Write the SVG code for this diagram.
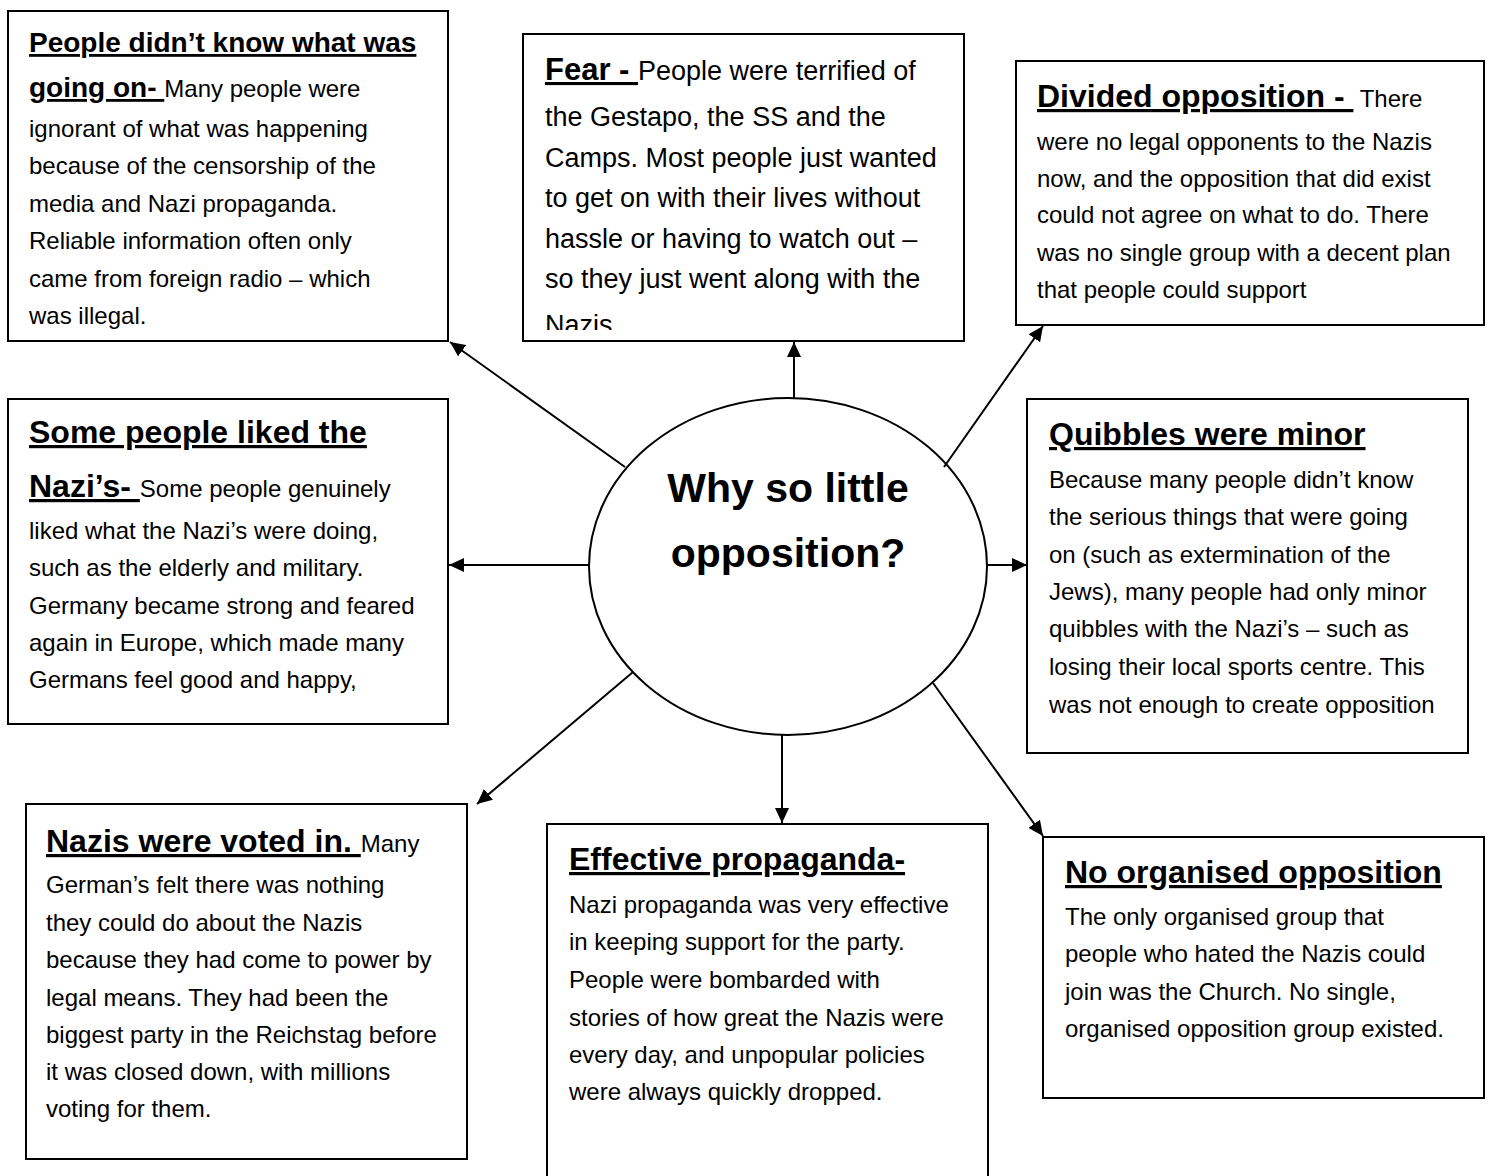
<svg xmlns="http://www.w3.org/2000/svg" width="1492" height="1176" viewBox="0 0 1492 1176">
<style>
.box{fill:#fff;stroke:#000;stroke-width:2}
.ell{fill:#fff;stroke:#000;stroke-width:2}
text{font-family:"Liberation Sans",Arial,sans-serif;font-size:24px;fill:#000}
.t{font-weight:bold;font-size:32px;text-decoration:underline}
.t28{font-weight:bold;font-size:28px;text-decoration:underline}
.f27{font-size:27px}
.center{font-weight:bold;font-size:41px;text-anchor:middle}
.con{stroke:#000;stroke-width:2;fill:none;marker-end:url(#arr)}
</style>
<defs>
<marker id="arr" markerUnits="userSpaceOnUse" markerWidth="16" markerHeight="14" refX="15" refY="7" orient="auto">
<path d="M0,0 L15,7 L0,14 Z" fill="#000"/>
</marker>
<clipPath id="fearclip"><rect x="523" y="34" width="441" height="296"/></clipPath>
</defs>
<rect width="1492" height="1176" fill="#fff"/>

<g id="node-knowledge">
<rect class="box" x="8" y="11" width="440" height="330"/>
<text x="29" y="52" class="t28">People didn’t know what was</text>
<text x="29" y="97"><tspan class="t28">going on-&#160;</tspan>Many people were</text>
<text x="29" y="137">ignorant of what was happening</text>
<text x="29" y="174">because of the censorship of the</text>
<text x="29" y="212">media and Nazi propaganda.</text>
<text x="29" y="249">Reliable information often only</text>
<text x="29" y="287">came from foreign radio – which</text>
<text x="29" y="324">was illegal.</text>
</g>

<g id="node-fear">
<rect class="box" x="523" y="34" width="441" height="307"/>
<g clip-path="url(#fearclip)">
<text x="545" y="80" class="f27"><tspan style="font-weight:bold;font-size:31px;text-decoration:underline">Fear -&#160;</tspan>People were terrified of</text>
<text x="545" y="126" class="f27">the Gestapo, the SS and the</text>
<text x="545" y="167" class="f27">Camps. Most people just wanted</text>
<text x="545" y="207" class="f27">to get on with their lives without</text>
<text x="545" y="248" class="f27">hassle or having to watch out –</text>
<text x="545" y="288" class="f27">so they just went along with the</text>
<text x="545" y="334" class="f27">Nazis</text>
</g>
</g>

<g id="node-divided">
<rect class="box" x="1016" y="61" width="468" height="264"/>
<text x="1037" y="107"><tspan class="t">Divided opposition -&#160;</tspan> There</text>
<text x="1037" y="150">were no legal opponents to the Nazis</text>
<text x="1037" y="187">now, and the opposition that did exist</text>
<text x="1037" y="223">could not agree on what to do. There</text>
<text x="1037" y="261">was no single group with a decent plan</text>
<text x="1037" y="298">that people could support</text>
</g>

<g id="node-liked">
<rect class="box" x="8" y="399" width="440" height="325"/>
<text x="29" y="443" class="t">Some people liked the</text>
<text x="29" y="497"><tspan class="t">Nazi’s-&#160;</tspan>Some people genuinely</text>
<text x="29" y="539">liked what the Nazi’s were doing,</text>
<text x="29" y="576">such as the elderly and military.</text>
<text x="29" y="614">Germany became strong and feared</text>
<text x="29" y="651">again in Europe, which made many</text>
<text x="29" y="688">Germans feel good and happy,</text>
</g>

<g id="node-center">
<ellipse class="ell" cx="788" cy="566.5" rx="199" ry="168.5"/>
<text x="788" y="502" class="center">Why so little</text>
<text x="788" y="567" class="center">opposition?</text>
</g>

<g id="node-quibbles">
<rect class="box" x="1027" y="399" width="441" height="354"/>
<text x="1049" y="445" class="t">Quibbles were minor</text>
<text x="1049" y="488">Because many people didn’t know</text>
<text x="1049" y="525">the serious things that were going</text>
<text x="1049" y="563">on (such as extermination of the</text>
<text x="1049" y="600">Jews), many people had only minor</text>
<text x="1049" y="637">quibbles with the Nazi’s – such as</text>
<text x="1049" y="675">losing their local sports centre. This</text>
<text x="1049" y="713">was not enough to create opposition</text>
</g>

<g id="node-voted">
<rect class="box" x="26" y="804" width="441" height="355"/>
<text x="46" y="852"><tspan class="t">Nazis were voted in.&#160;</tspan>Many</text>
<text x="46" y="893">German’s felt there was nothing</text>
<text x="46" y="931">they could do about the Nazis</text>
<text x="46" y="968">because they had come to power by</text>
<text x="46" y="1006">legal means. They had been the</text>
<text x="46" y="1043">biggest party in the Reichstag before</text>
<text x="46" y="1080">it was closed down, with millions</text>
<text x="46" y="1117">voting for them.</text>
</g>

<g id="node-propaganda">
<rect class="box" x="547" y="824" width="441" height="370"/>
<text x="569" y="870" class="t">Effective propaganda-</text>
<text x="569" y="913">Nazi propaganda was very effective</text>
<text x="569" y="950">in keeping support for the party.</text>
<text x="569" y="988">People were bombarded with</text>
<text x="569" y="1026">stories of how great the Nazis were</text>
<text x="569" y="1063">every day, and unpopular policies</text>
<text x="569" y="1100">were always quickly dropped.</text>
</g>

<g id="node-organised">
<rect class="box" x="1043" y="837" width="441" height="261"/>
<text x="1065" y="883" class="t">No organised opposition</text>
<text x="1065" y="925">The only organised group that</text>
<text x="1065" y="962">people who hated the Nazis could</text>
<text x="1065" y="1000">join was the Church. No single,</text>
<text x="1065" y="1037">organised opposition group existed.</text>
</g>

<g id="connectors">
<line class="con" x1="625" y1="467" x2="450" y2="342"/>
<line class="con" x1="794" y1="398" x2="794" y2="342"/>
<line class="con" x1="944" y1="467" x2="1043" y2="326"/>
<line class="con" x1="589" y1="565" x2="449" y2="565"/>
<line class="con" x1="987" y1="565" x2="1027" y2="565"/>
<line class="con" x1="633" y1="672" x2="477" y2="804"/>
<line class="con" x1="782" y1="735" x2="782" y2="823"/>
<line class="con" x1="933" y1="683" x2="1043" y2="836"/>
</g>
</svg>
